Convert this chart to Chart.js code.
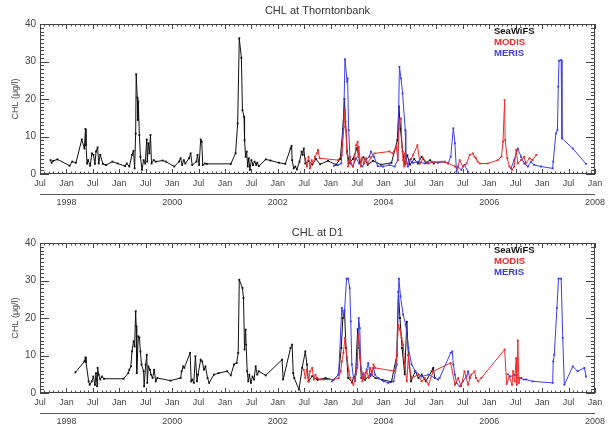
<!DOCTYPE html>
<html>
<head>
<meta charset="utf-8">
<script src="https://cdn.jsdelivr.net/npm/chart.js@4.4.1/dist/chart.umd.min.js"></script>
<style>
body { margin: 0; background: #fff; overflow: hidden; }
canvas { display: block; }
</style>
</head>
<body>
<canvas id="chlThorntonbank" width="608" height="212"></canvas>
<canvas id="chlD1" width="608" height="213"></canvas>
<script>
// axis labels
const monthTickLabels = ['Jul','Jan','Jul','Jan','Jul','Jan','Jul','Jan','Jul','Jan','Jul',
                         'Jan','Jul','Jan','Jul','Jan','Jul','Jan','Jul','Jan','Jul','Jan'];
const yearTickValues = [1998, 2000, 2002, 2004, 2006, 2008];
const yearTickLabels = ['1998', '2000', '2002', '2004', '2006', '2008'];
const chlTicks = [0, 10, 20, 30, 40];
const sensorNames = ['SeaWiFS', 'MODIS', 'MERIS'];

// Thorntonbank - SeaWiFS
const thSeaTime = [1997.70,1997.72,1997.75,1997.83,1998.06,1998.11,1998.18,1998.29,1998.34,1998.36,1998.37,1998.39,
  1998.41,1998.45,1998.48,1998.51,1998.54,1998.56,1998.59,1998.61,1998.64,1998.69,1998.75,1998.87,1998.97,1999.11,
  1999.14,1999.19,1999.24,1999.27,1999.29,1999.31,1999.32,1999.34,1999.35,1999.36,1999.38,1999.40,1999.43,1999.46,
  1999.49,1999.52,1999.53,1999.55,1999.57,1999.59,1999.61,1999.65,1999.69,1999.82,1999.88,2000.04,2000.13,2000.16,
  2000.19,2000.22,2000.25,2000.32,2000.35,2000.38,2000.46,2000.48,2000.51,2000.54,2000.56,2000.58,2000.62,2000.66,
  2001.11,2001.20,2001.24,2001.27,2001.31,2001.33,2001.36,2001.37,2001.39,2001.41,2001.43,2001.45,2001.47,2001.50,
  2001.53,2001.56,2001.59,2001.61,2001.64,2001.77,2001.86,2002.02,2002.14,2002.24,2002.26,2002.27,2002.30,2002.33,
  2002.36,2002.41,2002.45,2002.47,2002.49,2002.52,2002.58,2002.65,2002.72,2002.80,2002.95,2003.10,2003.18,2003.23,
  2003.26,2003.28,2003.31,2003.35,2003.42,2003.50,2003.55,2003.62,2003.70,2003.80,2003.95,2004.15,2004.26,2004.29,
  2004.32,2004.36,2004.40,2004.45,2004.50,2004.58,2004.65,2004.72,2004.80,2004.88,2004.95];
const thSeaChl = [3.7,3.0,3.5,3.9,2.2,3.3,3.0,9.2,6.8,12.0,7.7,2.8,
  3.7,2.2,5.5,5.1,2.7,6.0,7.1,2.8,5.1,2.7,2.4,3.3,2.8,2.1,
  2.8,2.0,5.1,6.2,1.5,10.8,26.6,20.4,14.4,19.3,10.4,4.6,1.1,3.7,
  2.8,9.2,3.3,8.2,5.5,10.4,2.8,3.7,3.3,3.6,3.3,2.0,3.3,4.2,
  2.4,3.7,2.8,4.2,5.5,2.4,3.3,5.1,2.4,9.2,8.6,2.4,2.8,2.7,
  2.7,5.5,13.5,36.2,31.0,17.0,15.3,9.0,4.6,6.0,2.0,4.2,1.1,3.7,
  2.4,3.3,2.4,3.0,2.1,3.9,3.6,3.0,2.7,6.8,7.5,3.7,1.5,2.0,
  1.2,3.3,6.0,5.1,6.8,2.8,3.5,2.5,4.0,2.6,3.5,2.5,4.0,12.0,
  20.0,14.0,6.0,3.0,4.0,7.0,3.0,4.5,2.5,3.5,2.5,3.0,9.0,18.0,
  12.0,6.0,2.5,5.0,2.5,4.0,2.8,4.6,3.0,3.7,2.8];

// Thorntonbank - MODIS
const thModTime = [2002.52,2002.55,2002.58,2002.61,2002.64,2002.67,2002.70,2002.74,2002.76,2002.79,2003.14,2003.21,
  2003.25,2003.27,2003.29,2003.31,2003.33,2003.36,2003.39,2003.42,2003.45,2003.48,2003.51,2003.52,2003.53,2003.57,
  2003.59,2003.63,2003.67,2003.70,2003.77,2003.83,2004.11,2004.17,2004.24,2004.27,2004.30,2004.33,2004.35,2004.37,
  2004.39,2004.40,2004.43,2004.52,2004.56,2004.64,2004.69,2004.75,2004.84,2004.97,2005.10,2005.22,2005.35,2005.40,
  2005.44,2005.50,2005.57,2005.63,2005.69,2005.72,2005.75,2005.78,2005.82,2005.97,2006.16,2006.23,2006.26,2006.29,
  2006.30,2006.34,2006.38,2006.43,2006.47,2006.51,2006.54,2006.60,2006.66,2006.69,2006.76,2006.82,2006.89];
const thModChl = [4.2,2.0,4.6,1.5,3.7,2.8,4.6,5.5,6.4,4.2,3.7,5.1,
  12.6,17.0,11.7,5.5,2.0,4.6,2.8,2.0,3.7,7.7,8.6,4.6,7.3,2.0,
  4.2,2.8,4.2,2.8,4.6,5.5,6.0,5.5,7.3,3.7,14.4,14.8,7.3,3.7,
  2.0,5.5,2.8,4.0,5.1,7.7,2.8,4.2,2.8,3.2,3.3,2.9,2.0,1.5,
  3.7,2.0,2.8,5.1,5.5,4.6,4.2,3.3,2.8,2.8,3.7,4.6,8.6,19.7,
  9.1,4.2,2.0,1.1,2.0,6.4,2.8,3.7,4.6,2.8,4.2,3.7,5.1];

// Thorntonbank - MERIS (null = no line drawn across the gap)
const thMerTime = [2003.06,2003.14,2003.20,2003.25,2003.27,2003.31,2003.32,2003.34,2003.37,2003.42,2003.48,2003.54,
  2003.60,2003.66,2003.73,2003.76,2003.82,2003.89,2003.99,2004.11,2004.21,2004.27,2004.30,2004.33,2004.36,2004.41,
  2004.42,2004.46,2004.49,2004.56,2004.66,2004.78,2004.91,2005.03,2005.16,2005.22,2005.27,2005.32,2005.35,2005.38,
  2005.41,2005.47,2005.53,2005.60,2006.00,2006.41,2006.47,2006.54,2006.60,2006.66,2006.73,2006.79,2006.85,2006.98,2007.20,
  2007.21,2007.26,2007.29,2007.305,2007.32,2007.36,2007.375,2007.58,2007.83];
const thMerChl = [2.2,2.4,2.8,17.0,30.6,24.6,25.5,11.7,2.8,2.0,4.2,2.8,
  2.0,3.7,4.6,6.0,4.6,2.1,2.0,2.4,2.0,3.7,28.6,25.5,21.5,11.7,
  4.6,2.0,3.7,3.0,3.3,2.8,3.3,3.0,3.3,2.8,4.6,12.2,8.2,0.6,
  2.0,1.1,2.4,0.6,null,1.5,3.7,6.8,4.6,2.8,2.0,3.3,2.4,2.0,1.5,
  3.3,10.8,11.7,23.3,30.2,30.4,9.5,6.8,2.7];

// D1 - SeaWiFS
const d1SeaTime = [1998.17,1998.34,1998.36,1998.37,1998.42,1998.44,1998.48,1998.51,1998.54,1998.56,1998.58,1998.59,
  1998.61,1998.64,1998.67,1998.71,1999.08,1999.17,1999.19,1999.22,1999.24,1999.27,1999.29,1999.31,1999.32,1999.33,
  1999.36,1999.38,1999.40,1999.42,1999.46,1999.47,1999.50,1999.52,1999.53,1999.55,1999.58,1999.60,1999.63,1999.66,
  1999.69,1999.72,1999.97,2000.16,2000.18,2000.21,2000.23,2000.34,2000.36,2000.38,2000.41,2000.44,2000.47,2000.49,
  2000.54,2000.57,2000.60,2000.63,2000.67,2000.70,2000.79,2000.88,2001.04,2001.11,2001.17,2001.22,2001.25,2001.27,
  2001.33,2001.35,2001.37,2001.39,2001.40,2001.42,2001.44,2001.46,2001.49,2001.52,2001.55,2001.58,2001.61,2001.64,
  2001.77,2002.08,2002.10,2002.24,2002.27,2002.29,2002.31,2002.40,2002.46,2002.52,2002.55,2002.58,2002.65,2002.75,
  2002.90,2003.05,2003.15,2003.20,2003.23,2003.26,2003.29,2003.33,2003.40,2003.47,2003.51,2003.54,2003.58,2003.65,
  2003.75,2003.85,2003.98,2004.15,2004.25,2004.28,2004.31,2004.35,2004.40,2004.44,2004.47,2004.52,2004.60,2004.66,
  2004.72,2004.80,2004.91,2004.94,2004.97];
const d1SeaChl = [5.5,8.4,9.5,8.3,3.1,2.2,3.1,4.4,2.2,5.3,1.8,6.7,
  4.9,3.6,4.4,3.8,3.8,5.3,6.2,7.1,11.1,13.8,12.4,21.8,17.8,5.3,
  15.1,14.8,11.1,7.6,5.8,1.8,7.6,10.2,2.7,7.1,6.2,4.9,4.0,6.2,
  3.1,4.0,3.3,4.0,5.8,7.1,6.7,10.7,3.1,3.6,2.7,9.8,3.1,4.9,
  8.9,8.4,6.2,7.1,4.0,2.7,4.9,5.3,5.8,4.7,7.6,8.0,10.7,30.2,
  28.0,25.3,11.6,16.9,12.9,5.8,3.1,4.9,2.7,4.4,3.6,7.1,4.9,5.8,
  4.7,8.9,3.6,12.0,12.9,5.3,4.0,0.9,6.7,11.1,7.6,3.1,4.5,3.5,
  4.0,3.5,5.0,12.0,20.0,22.0,12.0,4.0,3.0,5.0,17.0,12.0,4.0,3.5,
  5.0,4.0,3.5,3.0,10.0,27.0,20.0,12.0,5.0,19.0,10.0,3.1,5.8,4.0,
  4.9,3.1,5.8,6.7,4.0];

// D1 - MODIS
const d1ModTime = [2002.49,2002.52,2002.55,2002.58,2002.61,2002.65,2002.68,2002.71,2002.74,2002.80,2002.86,2003.06,
  2003.15,2003.19,2003.21,2003.24,2003.27,2003.31,2003.34,2003.37,2003.40,2003.43,2003.46,2003.50,2003.51,2003.53,
  2003.56,2003.58,2003.60,2003.62,2003.65,2003.68,2003.72,2003.75,2003.78,2003.81,2003.84,2004.22,2004.25,2004.28,
  2004.31,2004.34,2004.37,2004.40,2004.44,2004.47,2004.49,2004.53,2004.66,2004.72,2004.78,2004.85,2004.94,2005.27,
  2005.35,2005.41,2005.47,2005.53,2005.60,2005.66,2005.72,2005.75,2005.79,2005.85,2006.29,2006.33,2006.38,2006.43,
  2006.45,2006.48,2006.51,2006.52,2006.54,2006.56,2006.58];
const d1ModChl = [6.2,4.0,6.2,3.1,5.8,6.7,3.6,4.9,4.0,3.6,3.6,3.6,
  4.0,5.8,8.4,10.7,14.7,9.3,5.8,4.0,2.7,2.2,4.0,6.7,12.9,15.6,
  9.3,5.8,3.1,5.3,4.0,5.8,4.0,6.7,4.9,7.6,6.7,5.8,10.2,18.2,
  16.9,14.7,12.9,7.6,3.1,10.2,6.7,4.0,4.9,3.1,4.0,2.2,5.8,8.0,
  2.2,4.0,1.8,5.8,2.2,4.9,5.8,4.0,3.1,4.0,11.6,2.4,4.4,2.2,
  5.8,3.1,9.3,2.2,14.0,2.7,4.0];

// D1 - MERIS (null = no line drawn across the gap)
const d1MerTime = [2003.02,2003.15,2003.21,2003.24,2003.26,2003.30,2003.33,2003.36,2003.38,2003.40,2003.43,2003.46,
  2003.50,2003.53,2003.55,2003.57,2003.62,2003.68,2003.71,2003.75,2003.78,2003.81,2003.84,2003.90,2004.00,2004.09,
  2004.19,2004.25,2004.29,2004.32,2004.37,2004.42,2004.47,2004.53,2004.60,2004.72,2004.85,2004.97,2005.03,2005.06,
  2005.27,2005.30,2005.32,2005.35,2005.38,2005.44,2005.50,2005.57,2005.60,2005.63,2006.00,2006.35,2006.40,2006.48,2006.55,
  2006.60,2006.65,2006.70,2006.82,2007.20,2007.21,2007.23,2007.28,2007.31,2007.36,2007.39,2007.42,2007.58,2007.67,
  2007.80,2007.83];
const d1MerChl = [3.1,4.9,22.7,20.9,21.5,30.5,30.5,28.0,19.1,7.6,4.0,3.1,
  7.6,20.0,17.3,6.7,4.0,6.2,8.0,4.4,5.8,6.7,4.9,4.0,3.1,2.7,
  3.1,7.6,30.5,25.8,20.9,18.2,12.0,7.6,5.8,4.4,4.9,4.0,3.6,4.0,
  10.7,11.1,7.6,4.9,2.7,1.8,3.1,4.4,5.8,4.0,null,5.0,4.4,4.9,4.0,
  4.0,3.6,3.6,3.1,2.7,8.4,10.2,22.7,30.5,30.5,14.7,2.2,7.1,5.8,
  6.7,4.4];

const sensorColors = ['#111111', '#ee2a2a', '#3c3cec'];
const axisFont = "'Liberation Sans', Arial, sans-serif";
const textColor = '#444';

// IDL-style frame with inward ticks, plus title and legend text
const idlFrame = {
    id: 'idlFrame',
    afterDatasetsDraw(chart, args, opts) {
        const { ctx, chartArea: a, scales: { x, y } } = chart;
        ctx.save();
        ctx.strokeStyle = '#444';
        ctx.lineWidth = 1;
        ctx.strokeRect(Math.round(a.left) + 0.5, Math.round(a.top) + 0.5,
                       Math.round(a.width) - 1, Math.round(a.height) - 1);
        ctx.beginPath();
        for (let v = 0; v <= 40; v++) {
            const py = Math.round(y.getPixelForValue(v)) + 0.5;
            const len = v % 10 === 0 ? 9 : 4;
            ctx.moveTo(a.left, py); ctx.lineTo(a.left + len, py);
            ctx.moveTo(a.right, py); ctx.lineTo(a.right - len, py);
        }
        for (let m = 0; m <= 126; m++) {
            const px = Math.round(x.getPixelForValue(1997.5 + m / 12)) + 0.5;
            const len = m % 6 === 0 ? 5 : 2.5;
            ctx.moveTo(px, a.bottom); ctx.lineTo(px, a.bottom - len);
            ctx.moveTo(px, a.top); ctx.lineTo(px, a.top + len);
        }
        ctx.stroke();

        ctx.fillStyle = '#333';
        ctx.font = '11px ' + axisFont;
        ctx.textAlign = 'center';
        ctx.textBaseline = 'middle';
        ctx.fillText(opts.title, (a.left + a.right) / 2, opts.titleY);

        ctx.font = 'bold 9.5px ' + axisFont;
        ctx.textAlign = 'left';
        sensorNames.forEach((name, i) => {
            ctx.fillStyle = sensorColors[i];
            ctx.fillText(name, opts.legendX, opts.legendY + i * 11);
        });
        ctx.restore();
    }
};

function makeDataset(label, color, times, values) {
    return {
        label: label,
        data: times.map((t, i) => ({ x: t, y: values[i] })),
        borderColor: color,
        backgroundColor: color,
        borderWidth: 1,
        pointRadius: 1.3,
        pointStyle: 'rect',
        pointBorderWidth: 0,
        spanGaps: false,
        tension: 0
    };
}

function createChlChart(canvasId, title, series, frame) {
    const ctx = document.getElementById(canvasId);
    if (!ctx) return;

    new Chart(ctx, {
        type: 'line',
        data: {
            // MODIS on top, then MERIS, SeaWiFS underneath
            datasets: [
                makeDataset(sensorNames[1], sensorColors[1], series[1][0], series[1][1]),
                makeDataset(sensorNames[2], sensorColors[2], series[2][0], series[2][1]),
                makeDataset(sensorNames[0], sensorColors[0], series[0][0], series[0][1])
            ]
        },
        options: {
            responsive: false,
            animation: false,
            events: [],
            layout: { padding: { top: frame.top, right: 10, left: 0, bottom: 0 } },
            plugins: {
                legend: { display: false },
                tooltip: { enabled: false },
                idlFrame: {
                    title: title,
                    titleY: frame.titleY,
                    legendX: 494,
                    legendY: frame.legendY
                }
            },
            scales: {
                x: {
                    type: 'linear',
                    position: 'bottom',
                    min: 1997.5,
                    max: 2008,
                    afterBuildTicks: s => { s.ticks = monthTickLabels.map((_, i) => ({ value: 1997.5 + i * 0.5 })); },
                    afterFit: s => { s.height = 20; },
                    grid: { display: false, drawTicks: false },
                    border: { display: false },
                    ticks: {
                        autoSkip: false,
                        maxRotation: 0,
                        padding: 4,
                        color: textColor,
                        font: { size: 9, family: axisFont },
                        callback: (v, i) => monthTickLabels[i]
                    }
                },
                x2: {
                    type: 'linear',
                    position: 'bottom',
                    min: 1997.5,
                    max: 2008,
                    afterBuildTicks: s => { s.ticks = yearTickValues.map(v => ({ value: v })); },
                    afterFit: s => { s.height = frame.yearHeight; },
                    grid: { display: false, drawTicks: false },
                    border: { display: true, color: '#555', width: 1 },
                    ticks: {
                        autoSkip: false,
                        maxRotation: 0,
                        padding: 3,
                        color: textColor,
                        font: { size: 9, family: axisFont },
                        callback: (v, i) => yearTickLabels[i]
                    }
                },
                y: {
                    min: 0,
                    max: 40,
                    afterBuildTicks: s => { s.ticks = chlTicks.map(v => ({ value: v })); },
                    afterFit: s => { s.width = 40; },
                    grid: { display: false, drawTicks: false },
                    border: { display: false },
                    ticks: {
                        padding: 4,
                        color: textColor,
                        font: { size: 10, family: axisFont }
                    },
                    title: {
                        display: true,
                        text: 'CHL (μg/l)',
                        color: textColor,
                        font: { size: 9, family: axisFont },
                        padding: { top: 10, bottom: 0 }
                    }
                }
            }
        },
        plugins: [idlFrame]
    });
}

document.addEventListener('DOMContentLoaded', () => {
    createChlChart('chlThorntonbank', 'CHL at Thorntonbank',
        [[thSeaTime, thSeaChl], [thModTime, thModChl], [thMerTime, thMerChl]],
        { top: 24, titleY: 11, legendY: 31, yearHeight: 18 });
    createChlChart('chlD1', 'CHL at D1',
        [[d1SeaTime, d1SeaChl], [d1ModTime, d1ModChl], [d1MerTime, d1MerChl]],
        { top: 31, titleY: 21, legendY: 38, yearHeight: 12 });
});
</script>
</body>
</html>
